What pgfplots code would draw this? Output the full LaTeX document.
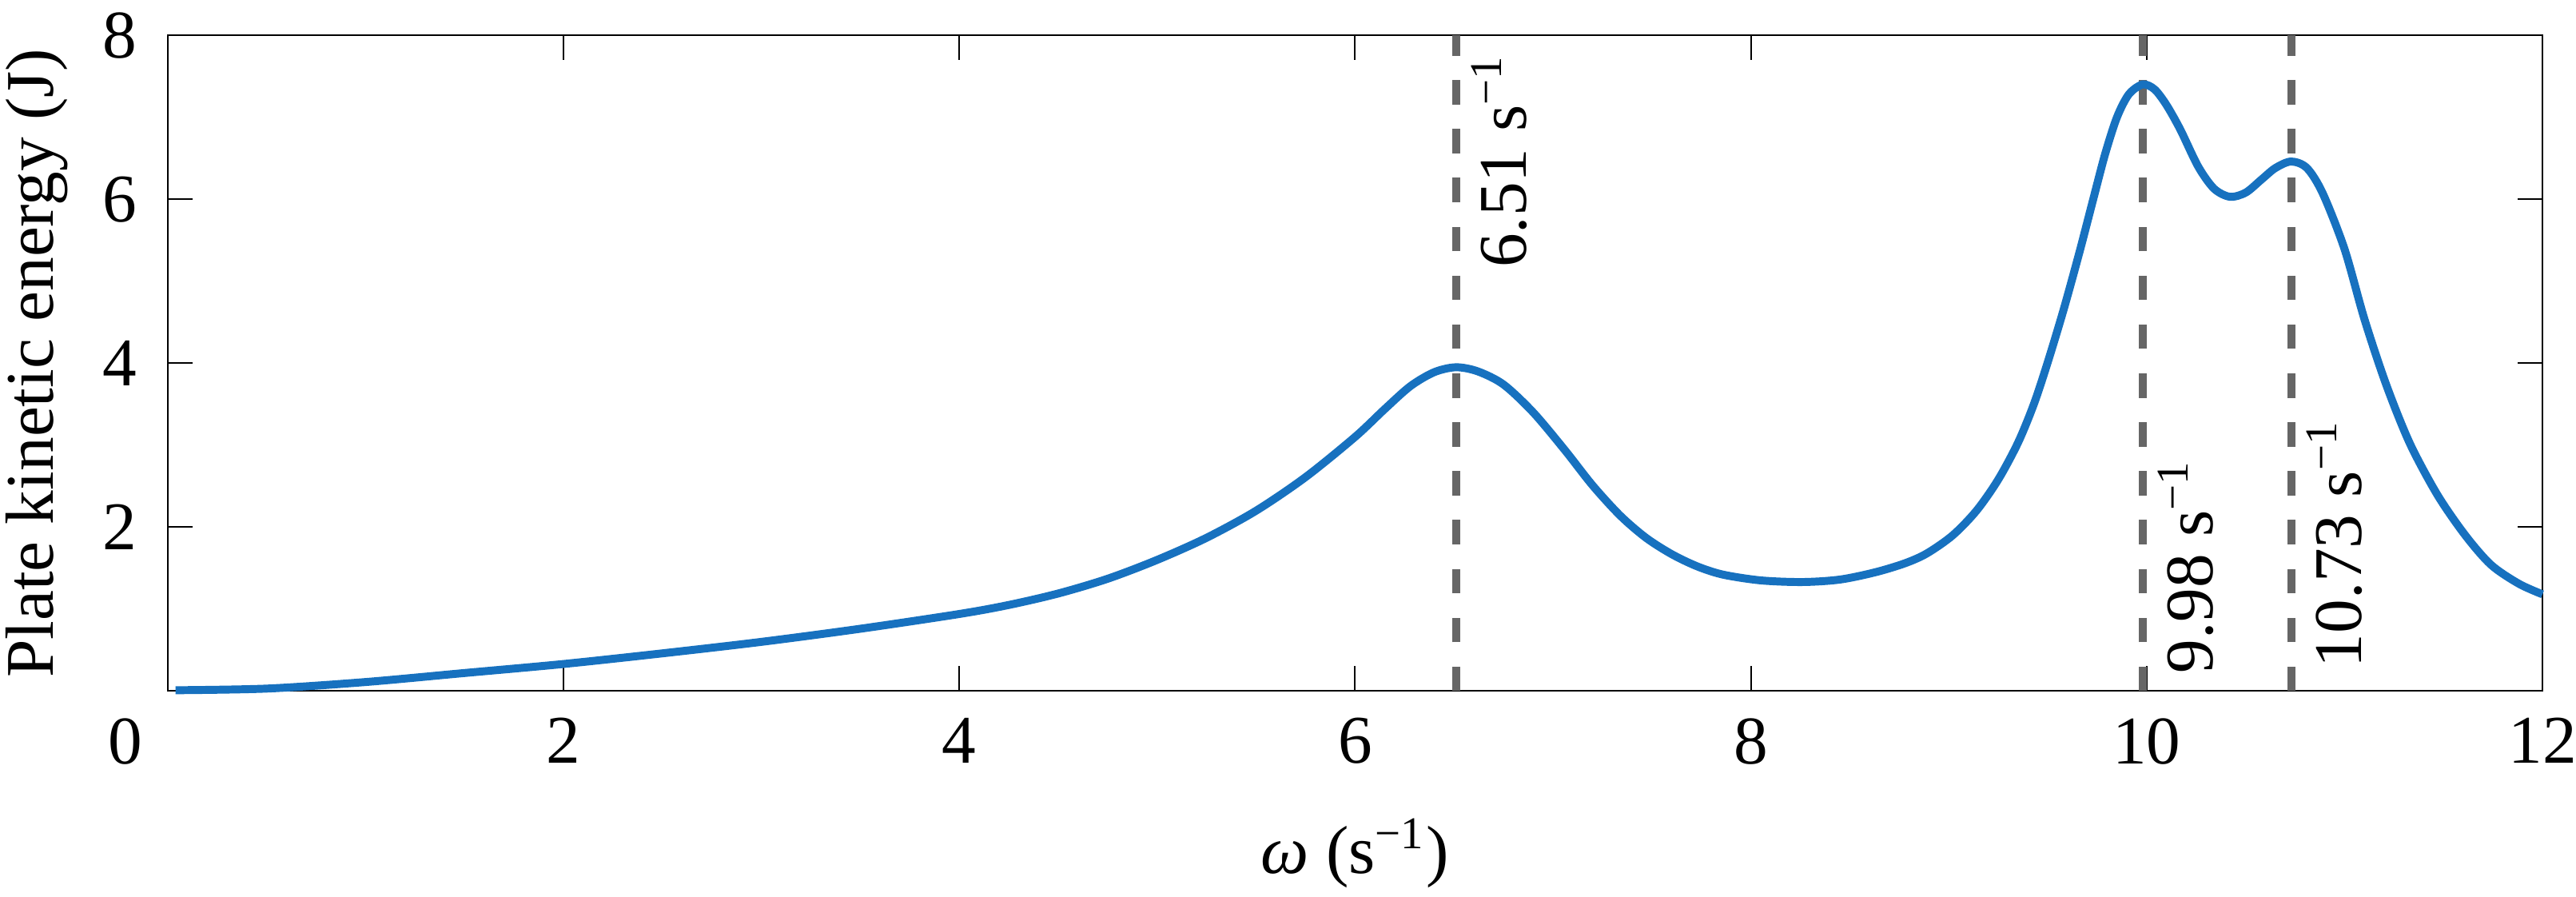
\documentclass[border=0pt]{standalone}
\usepackage{fontspec}
\setmainfont{Liberation Serif}
\usepackage{pgfplots}
\pgfplotsset{compat=1.18}
\definecolor{curveblue}{RGB}{23,113,191}
\definecolor{dashgray}{RGB}{102,102,102}
\begin{document}
\fontsize{12}{14}\selectfont
\begin{tikzpicture}
\begin{axis}[
  scale only axis,
  width=418.0pt,
  height=115.4pt,
  xmin=0, xmax=12,
  ymin=0, ymax=8,
  xtick={0,2,4,6,8,10,12},
  xticklabels={\makebox[0pt][r]{0\hspace{4.5pt}},2,4,6,8,10,12},
  ytick={2,4,6,8},
  tick align=inside,
  major tick length=4.4pt,
  axis line style={line width=0.3pt},
  every tick/.style={black, line width=0.3pt},
  /pgf/number format/assume math mode=true,
  xticklabel style={anchor=north, inner sep=0pt, yshift=-4.6pt},
  yticklabel style={anchor=east, inner sep=0pt, xshift=-5.2pt},
  xlabel={\textit{ω} (s\textsuperscript{−1})},
  ylabel={Plate kinetic energy (J)},
  xlabel style={at={(axis description cs:0.5,0)}, anchor=base, inner sep=0pt, yshift=-32.1pt},
  ylabel style={at={(axis description cs:-0.0414,0.5)}, anchor=south, inner sep=0pt},
  clip=false,
]
% resonance lines
\addplot [dashgray, line width=1.4pt, dash pattern=on 4.3pt off 4.3pt] coordinates {(6.51,0) (6.51,8)};
\addplot [dashgray, line width=1.4pt, dash pattern=on 4.3pt off 4.3pt] coordinates {(9.98,0) (9.98,8)};
\addplot [dashgray, line width=1.4pt, dash pattern=on 4.3pt off 4.3pt] coordinates {(10.73,0) (10.73,8)};

% kinetic energy spectrum
\addplot [curveblue, line width=1.4pt, smooth] coordinates {
  (0.04,0.01) (0.5,0.03) (1.0,0.11) (1.5,0.22) (2.0,0.33)
  (2.5,0.46) (3.0,0.60) (3.5,0.76) (4.0,0.94) (4.25,1.05)
  (4.5,1.19) (4.75,1.37) (5.0,1.60) (5.25,1.87) (5.5,2.20)
  (5.75,2.61) (6.0,3.10) (6.15,3.44) (6.28,3.72) (6.40,3.89)
  (6.51,3.95) (6.62,3.90) (6.75,3.74) (6.90,3.40) (7.06,2.94)
  (7.20,2.51) (7.34,2.14) (7.47,1.87) (7.60,1.67) (7.73,1.52)
  (7.86,1.42) (8.05,1.35) (8.26,1.33) (8.45,1.36) (8.63,1.45)
  (8.78,1.56) (8.89,1.68) (9.02,1.90) (9.14,2.20) (9.25,2.58)
  (9.35,3.03) (9.43,3.50) (9.50,4.01) (9.58,4.65) (9.66,5.35)
  (9.73,6.00) (9.79,6.55) (9.85,7.00) (9.91,7.28) (9.98,7.40)
  (10.04,7.34) (10.10,7.15) (10.17,6.85) (10.26,6.40) (10.34,6.13)
  (10.42,6.03) (10.50,6.08) (10.58,6.24) (10.65,6.38) (10.73,6.46)
  (10.81,6.38) (10.89,6.07) (11.00,5.39) (11.10,4.54) (11.21,3.74)
  (11.33,3.02) (11.47,2.39) (11.61,1.90) (11.74,1.54) (11.88,1.31)
  (12.00,1.18)
};

\node [rotate=90, anchor=north west, inner sep=0pt, yshift=-2.5pt] at (axis cs:6.51,5.15) {6.51 s\textsuperscript{−1}};
\node [rotate=90, anchor=north west, inner sep=0pt, yshift=-2.5pt] at (axis cs:9.98,0.20) {9.98 s\textsuperscript{−1}};
\node [rotate=90, anchor=north west, inner sep=0pt, yshift=-2.5pt] at (axis cs:10.73,0.27) {10.73 s\textsuperscript{−1}};
\end{axis}
\pgfresetboundingbox
\path[use as bounding box] (-29.5pt,-36.2pt) rectangle (423.9pt,121.6pt);
\end{tikzpicture}
\end{document}
